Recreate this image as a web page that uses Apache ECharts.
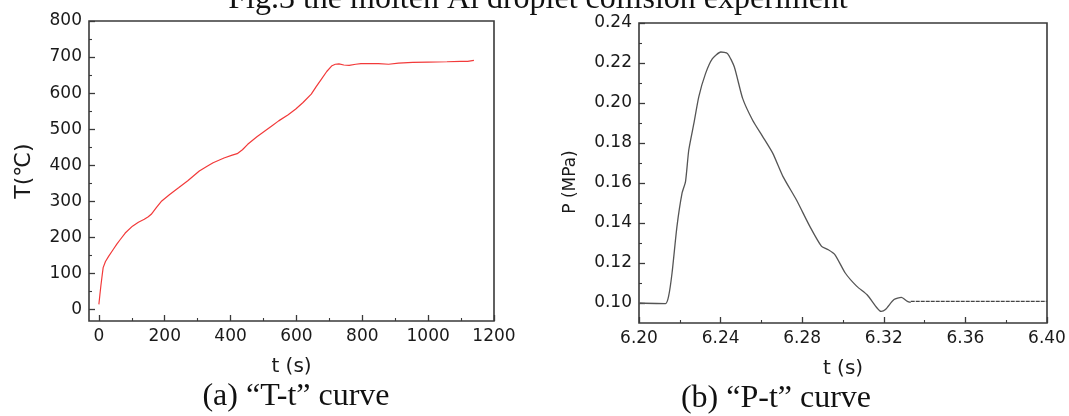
<!DOCTYPE html>
<html>
<head>
<meta charset="utf-8">
<script src="https://cdn.jsdelivr.net/npm/echarts@6/dist/echarts.min.js"></script>
<style>
html, body { margin: 0; padding: 0; background: #fff; }
#main { width: 1069px; height: 416px; }
</style>
</head>
<body>
<div id="main"></div>
<script>
// (a) T-t curve
var tTime = [0, 3, 6, 10, 13, 20, 30, 44, 55, 65, 80, 102, 120, 138, 150, 159, 175, 191, 215, 243, 270, 305, 330, 347, 380, 405, 420, 436, 452, 480, 504, 525, 546, 575, 598, 620, 645, 660, 676, 692, 708, 718, 729, 744, 760, 780, 796, 820, 849, 880, 910, 953, 1000, 1057, 1099, 1120, 1139];
var tTemp = [14, 40, 65, 95, 116, 133, 148, 167, 182, 194, 212, 231, 242, 250, 257, 264, 283, 301, 319, 338, 357, 384, 398, 407, 420, 428, 432, 443, 458, 479, 495, 509, 523, 540, 556, 574, 597, 618, 639, 660, 676, 680, 681, 678, 677, 680, 682, 682, 682, 680, 683, 685, 686, 687, 688, 688, 691];

// (b) P-t curve
var pTime = [6.2000, 6.2130, 6.2145, 6.2162, 6.2186, 6.2211, 6.2228, 6.2244, 6.2269, 6.2293, 6.2326, 6.2360, 6.2401, 6.2434, 6.2467, 6.2508, 6.2557, 6.2607, 6.2656, 6.2706, 6.2772, 6.2838, 6.2895, 6.2928, 6.2961, 6.3011, 6.3068, 6.3118, 6.3167, 6.3187, 6.3208, 6.3250, 6.3286, 6.3316, 6.3332];
var pVal = [0.1000, 0.0997, 0.1033, 0.1150, 0.1382, 0.1549, 0.1607, 0.1765, 0.1898, 0.2031, 0.2147, 0.2222, 0.2255, 0.2247, 0.2181, 0.2023, 0.1914, 0.1831, 0.1748, 0.1632, 0.1515, 0.1382, 0.1283, 0.1266, 0.1241, 0.1150, 0.1083, 0.1041, 0.0975, 0.0958, 0.0967, 0.1017, 0.1028, 0.1008, 0.1003];
var pTailTime = [6.3332, 6.4000];
var pTailVal = [0.1008, 0.1008];

// tick labels and minor tick positions
var tTicks = [0, 200, 400, 600, 800, 1000, 1200];
var tMinor = [100, 300, 500, 700, 900, 1100];
var tempTicks = [0, 100, 200, 300, 400, 500, 600, 700, 800];
var tempMinor = [50, 150, 250, 350, 450, 550, 650, 750];
var pTimeTicks = [6.20, 6.24, 6.28, 6.32, 6.36, 6.40];
var pTimeMinor = [6.22, 6.26, 6.30, 6.34, 6.38];
var pTicks = [0.10, 0.12, 0.14, 0.16, 0.18, 0.20, 0.22, 0.24];
var pMinor = [0.11, 0.13, 0.15, 0.17, 0.19, 0.21, 0.23];

var titleText = 'Fig.3 the molten Al droplet collision experiment';
var captionA = '(a) \u201cT-t\u201d curve';
var captionB = '(b) \u201cP-t\u201d curve';

var sans = '"DejaVu Sans", Arial, sans-serif';
var serif = '"Liberation Serif", "Times New Roman", serif';
var frameColor = '#3a3a3a';
var textColor = '#1a1a1a';

var gridA = { left: 89, top: 21, width: 405, height: 300 };
var gridB = { left: 639, top: 23, width: 408, height: 300 };

function zipXY(xs, ys) {
    var out = [];
    xs.forEach(function (x, i) { out.push([x, ys[i]]); });
    return out;
}

// axis carrying the labelled (major) ticks
function majorAxis(gridIndex, min, max, ticks, fmt, extra) {
    var axis = {
        type: 'value', gridIndex: gridIndex, min: min, max: max,
        axisLine: { show: false, onZero: false },
        splitLine: { show: false },
        axisTick: { show: true, inside: true, length: 6, customValues: ticks,
                    lineStyle: { color: frameColor, width: 1.3 } },
        axisLabel: { color: textColor, fontFamily: sans, fontSize: 17, margin: 7,
                     customValues: ticks, formatter: fmt },
        nameLocation: 'middle'
    };
    return Object.assign(axis, extra || {});
}

// twin axis on an identical grid, only short minor ticks
function minorAxis(gridIndex, min, max, ticks) {
    return {
        type: 'value', gridIndex: gridIndex, min: min, max: max,
        axisLine: { show: false, onZero: false },
        splitLine: { show: false },
        axisLabel: { show: false },
        axisTick: { show: true, inside: true, length: 3, customValues: ticks,
                    lineStyle: { color: frameColor, width: 1.1 } }
    };
}

function plain(v) { return String(v); }
function two(v) { return v.toFixed(2); }

var dom = document.getElementById('main');
var myChart = echarts.init(dom, null, { renderer: 'canvas' });

var frame = { show: true, borderColor: frameColor, borderWidth: 1.6, backgroundColor: 'transparent' };

var option = {
    backgroundColor: '#fff',
    animation: false,
    title: [
        { text: titleText, left: 533, top: -21, textAlign: 'center',
          textStyle: { fontFamily: serif, fontWeight: 'normal', fontSize: 32, color: '#111' } },
        { text: captionA, left: 291, top: 376, textAlign: 'center',
          textStyle: { fontFamily: serif, fontWeight: 'normal', fontSize: 32, color: '#111' } },
        { text: captionB, left: 771, top: 378, textAlign: 'center',
          textStyle: { fontFamily: serif, fontWeight: 'normal', fontSize: 32, color: '#111' } }
    ],
    grid: [
        Object.assign({}, gridA, frame),
        Object.assign({}, gridA),
        Object.assign({}, gridB, frame),
        Object.assign({}, gridB)
    ],
    xAxis: [
        majorAxis(0, -30, 1200, tTicks, plain, {
            name: 't (s)', nameGap: 36,
            nameTextStyle: { color: textColor, fontFamily: sans, fontSize: 20 } }),
        minorAxis(1, -30, 1200, tMinor),
        majorAxis(2, 6.20, 6.40, pTimeTicks, two, {
            name: 't (s)', nameGap: 36,
            nameTextStyle: { color: textColor, fontFamily: sans, fontSize: 20 } }),
        minorAxis(3, 6.20, 6.40, pTimeMinor)
    ],
    yAxis: [
        majorAxis(0, -32, 800, tempTicks, plain, {
            name: 'T(\u2103)', nameGap: 54,
            nameTextStyle: { color: textColor, fontFamily: sans, fontSize: 22 } }),
        minorAxis(1, -32, 800, tempMinor),
        majorAxis(2, 0.09, 0.24, pTicks, two, {
            name: 'P (MPa)', nameGap: 60,
            nameTextStyle: { color: textColor, fontFamily: sans, fontSize: 17, padding: [0, 18, 0, 0] } }),
        minorAxis(3, 0.09, 0.24, pMinor)
    ],
    series: [
        {
            name: 'T', type: 'line', xAxisIndex: 0, yAxisIndex: 0,
            data: zipXY(tTime, tTemp), showSymbol: false,
            lineStyle: { color: '#f23a3a', width: 1.2 }
        },
        {
            name: 'P', type: 'line', xAxisIndex: 2, yAxisIndex: 2,
            data: zipXY(pTime, pVal), showSymbol: false, smooth: 0.2,
            lineStyle: { color: '#555', width: 1.3 }
        },
        {
            name: 'P tail', type: 'line', xAxisIndex: 2, yAxisIndex: 2,
            data: zipXY(pTailTime, pTailVal), showSymbol: false,
            lineStyle: { color: '#444', width: 1.3, type: [4, 1] }
        }
    ]
};

myChart.setOption(option, true);
</script>
</body>
</html>
